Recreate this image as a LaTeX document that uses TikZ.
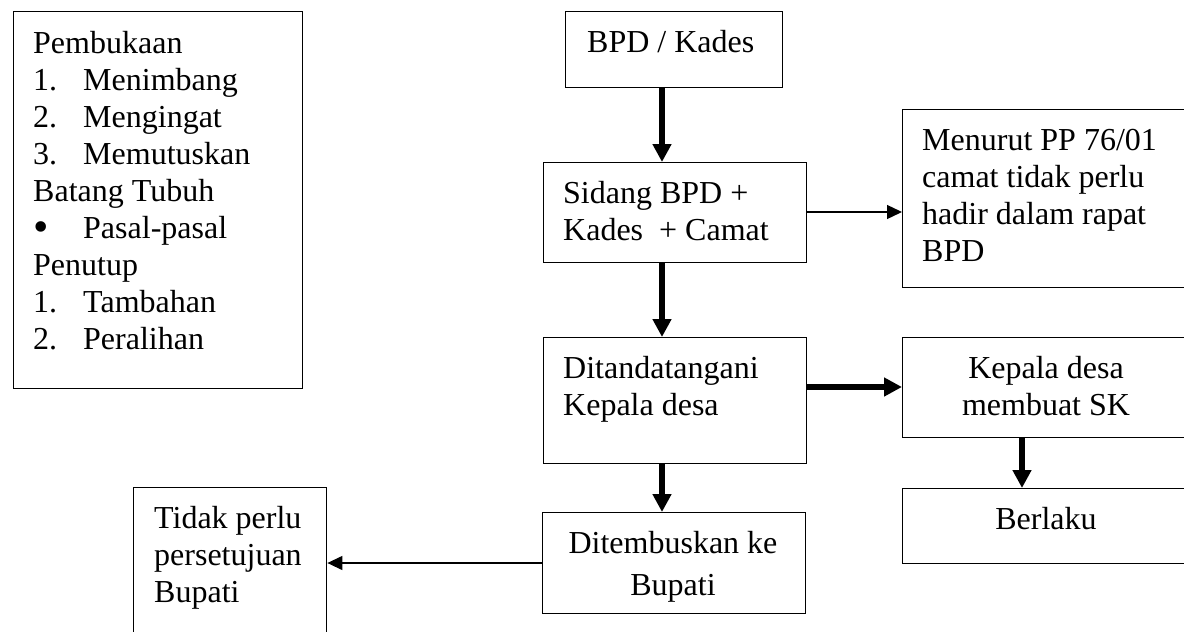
\documentclass[tikz,border=0pt]{standalone}
\usepackage{fontspec}
\setmainfont{Liberation Serif}
\usetikzlibrary{arrows.meta}
\begin{document}
\begin{tikzpicture}[x=1pt,y=-1pt,
  box/.style={draw, line width=1.4pt, inner sep=0pt, anchor=north west},
  ln/.style={anchor=base west, inner sep=0pt, font=\fontsize{32}{37}\selectfont},
  lnc/.style={anchor=base, inner sep=0pt, font=\fontsize{32}{37}\selectfont},
  bigarrow/.style={line width=5.8pt, -{Triangle[length=18pt,width=18pt]}},
  thinarrow/.style={line width=1.3pt, -{Triangle[length=15pt,width=14pt]}}]
\useasboundingbox (0,0) rectangle (1184,632);
\clip (0,0) rectangle (1184,632);
\fill[white] (0,0) rectangle (1184,632);

% boxes
\node[box, minimum width=289pt, minimum height=377pt] (struct) at (13,11) {};
\node[box, minimum width=217pt, minimum height=76pt] (bpd) at (565,11) {};
\node[box, minimum width=263pt, minimum height=100pt] (sidang) at (543,162) {};
\node[box, minimum width=300pt, minimum height=178pt] (menurut) at (902,109) {};
\node[box, minimum width=263pt, minimum height=126pt] (ditand) at (543,337) {};
\node[box, minimum width=300pt, minimum height=100pt] (kepala) at (902,337) {};
\node[box, minimum width=300pt, minimum height=75pt] (berlaku) at (902,488) {};
\node[box, minimum width=263pt, minimum height=101pt] (ditemb) at (542,512) {};
\node[box, minimum width=193pt, minimum height=170pt] (tidak) at (133,487) {};

% left box text
\node[ln] (s1) at (33,53) {Pembukaan};
\node[ln] (s2n) at (33,90) {1.};
\node[ln] (s2) at (83,90) {Menimbang};
\node[ln] (s3n) at (33,127) {2.};
\node[ln] (s3) at (83,127) {Mengingat};
\node[ln] (s4n) at (33,164) {3.};
\node[ln] (s4) at (83,164) {Memutuskan};
\node[ln] (s5) at (33,201) {Batang Tubuh};
\node[ln, font=\fontsize{44}{44}\selectfont] (s6n) at (33,241) {\textbullet};
\node[ln] (s6) at (83,238) {Pasal-pasal};
\node[ln] (s7) at (33,275) {Penutup};
\node[ln] (s8n) at (33,312) {1.};
\node[ln] (s8) at (83,312) {Tambahan};
\node[ln] (s9n) at (33,349) {2.};
\node[ln] (s9) at (83,349) {Peralihan};

% other texts
\node[ln] (tb1) at (587,52) {BPD / Kades};
\node[ln] (ts1) at (563,203) {Sidang BPD +};
\node[ln] (ts2) at (563,240) {Kades\ \ + Camat};
\node[ln] (tm1) at (922,150) {Menurut PP 76/01};
\node[ln] (tm2) at (922,187) {camat tidak perlu};
\node[ln] (tm3) at (922,224) {hadir dalam rapat};
\node[ln] (tm4) at (922,261) {BPD};
\node[ln] (td1) at (563,378) {Ditandatangani};
\node[ln] (td2) at (563,415) {Kepala desa};
\node[lnc] (tk1) at (1046,378) {Kepala desa};
\node[lnc] (tk2) at (1046,415) {membuat SK};
\node[lnc] (tl1) at (1046,529) {Berlaku};
\node[lnc] (te1) at (673,553) {Ditembuskan ke};
\node[lnc] (te2) at (673,595) {Bupati};
\node[ln] (tt1) at (154,528) {Tidak perlu};
\node[ln] (tt2) at (154,565) {persetujuan};
\node[ln] (tt3) at (154,602) {Bupati};

% connector guides
\coordinate (cx) at (662,0);
\coordinate (kx) at (1022,0);
\coordinate (y1) at (0,212);
\coordinate (y2) at (0,387);
\coordinate (y3) at (0,563);

% connectors
\draw[bigarrow] (bpd.south -| cx) -- (sidang.north -| cx);
\draw[bigarrow] (sidang.south -| cx) -- (ditand.north -| cx);
\draw[bigarrow] (ditand.south -| cx) -- (ditemb.north -| cx);
\draw[bigarrow] (ditand.east |- y2) -- (kepala.west |- y2);
\draw[bigarrow] (kepala.south -| kx) -- (berlaku.north -| kx);
\draw[thinarrow] (sidang.east |- y1) -- (menurut.west |- y1);
\draw[thinarrow] (ditemb.west |- y3) -- (tidak.east |- y3);
\end{tikzpicture}
\end{document}
